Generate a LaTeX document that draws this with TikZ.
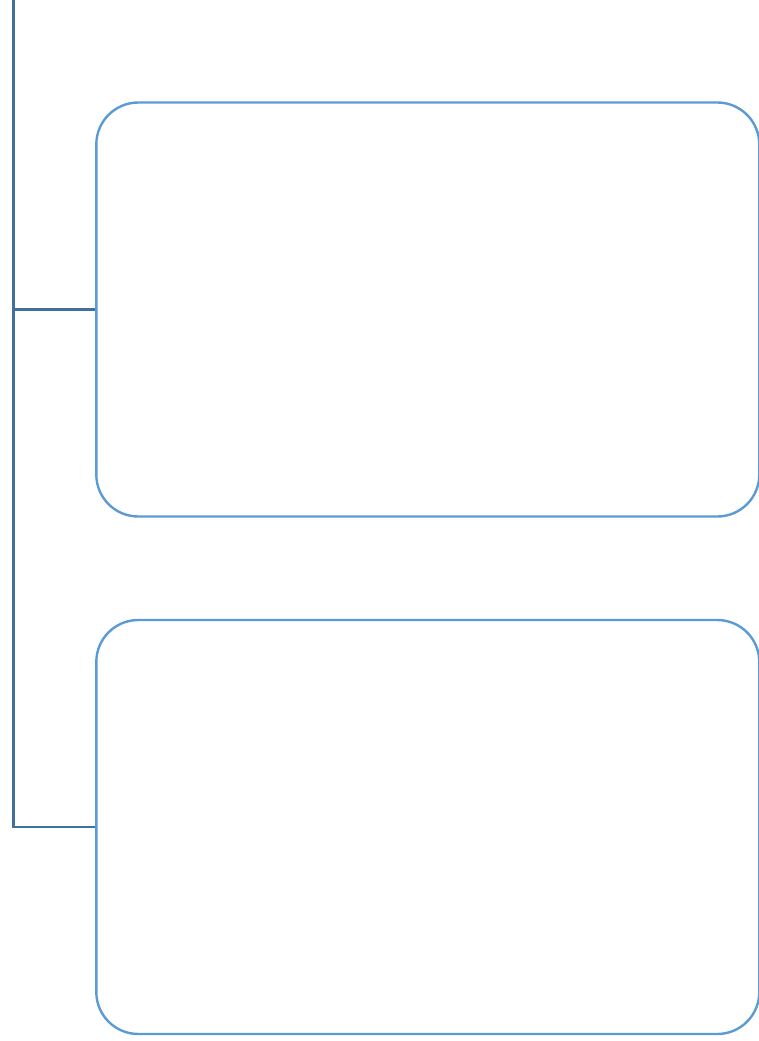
\documentclass[tikz,border=0pt]{standalone}
\begin{document}
\begin{tikzpicture}[x=1pt,y=-1pt,
  boxstyle/.style={draw=boxblue,line width=2.4pt,rounded corners=42pt,rectangle,inner sep=0pt,minimum width=663pt,minimum height=414pt},
  linkstyle/.style={draw=linkblue,line width=2.4pt}]
\definecolor{boxblue}{HTML}{5B9BD5}
\definecolor{linkblue}{HTML}{41719C}
\useasboundingbox (0,0) rectangle (759,1041);
\node[boxstyle] (b1) at (427.8,309.5) {};
\node[boxstyle] (b2) at (427.8,827) {};
\coordinate (top) at (13.5,-2);
\coordinate (j1) at (13.5,309.5);
\coordinate (j2) at (13.5,827);
\draw[linkstyle] (top) -- (j2) -- (b2.west);
\draw[linkstyle] (j1) -- (b1.west);
\end{tikzpicture}
\end{document}
